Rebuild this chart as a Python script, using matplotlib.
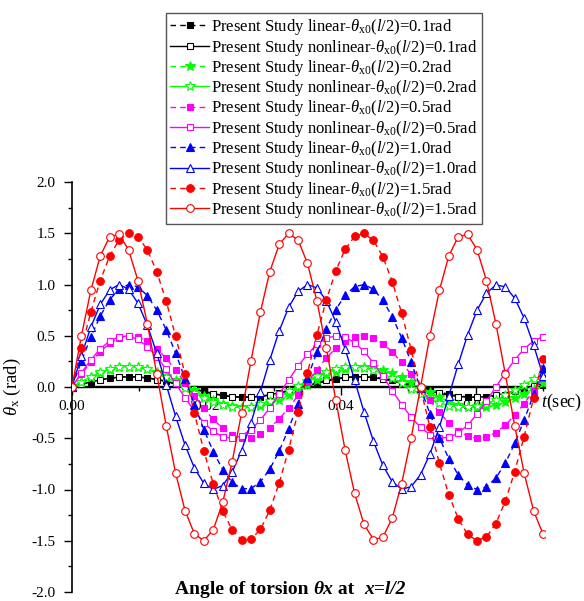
import matplotlib
matplotlib.use("Agg")
import matplotlib.pyplot as plt
from matplotlib.ticker import MultipleLocator, FormatStrFormatter

plt.rcParams["font.family"] = ["Liberation Serif", "DejaVu Serif"]
plt.rcParams["mathtext.fontset"] = "custom"
plt.rcParams["mathtext.rm"] = "Liberation Serif"
plt.rcParams["mathtext.it"] = "Liberation Serif:italic"
plt.rcParams["mathtext.bf"] = "Liberation Serif:bold"
plt.rcParams["axes.unicode_minus"] = False

# time (sec)
t = [0.0000, 0.0014, 0.0028, 0.0042, 0.0056, 0.0070, 0.0084, 0.0098, 0.0112, 0.0126,
     0.0140, 0.0154, 0.0168, 0.0182, 0.0196, 0.0210, 0.0224, 0.0238, 0.0252, 0.0266,
     0.0280, 0.0294, 0.0308, 0.0322, 0.0336, 0.0350, 0.0364, 0.0378, 0.0392, 0.0406,
     0.0420, 0.0434, 0.0448, 0.0462, 0.0476, 0.0490, 0.0504, 0.0518, 0.0532, 0.0546,
     0.0560, 0.0574, 0.0588, 0.0602, 0.0616, 0.0630, 0.0644, 0.0658, 0.0672, 0.0686,
     0.0700]

# angle of torsion (rad)
lin_01 = [0, 0.025, 0.049, 0.069, 0.085, 0.096, 0.100, 0.098, 0.089, 0.075, 0.056, 0.033, 0.008,
          -0.017, -0.042, -0.063, -0.081, -0.093, -0.099, -0.099, -0.093, -0.080, -0.062, -0.041,
          -0.016, 0.009, 0.034, 0.057, 0.076, 0.090, 0.098, 0.100, 0.095, 0.085, 0.069, 0.048,
          0.024, -0.001, -0.026, -0.050, -0.070, -0.086, -0.096, -0.100, -0.098, -0.089, -0.074,
          -0.055, -0.032, -0.007, 0.018]
non_01 = [0, 0.026, 0.049, 0.070, 0.086, 0.096, 0.100, 0.097, 0.088, 0.073, 0.053, 0.029, 0.004,
          -0.022, -0.046, -0.067, -0.084, -0.095, -0.100, -0.098, -0.090, -0.075, -0.056, -0.033,
          -0.007, 0.018, 0.043, 0.065, 0.082, 0.094, 0.100, 0.099, 0.091, 0.077, 0.059, 0.036,
          0.011, -0.015, -0.040, -0.062, -0.080, -0.093, -0.099, -0.099, -0.093, -0.080, -0.062,
          -0.040, -0.015, 0.011, 0.036]
lin_02 = [0, 0.050, 0.098, 0.138, 0.170, 0.191, 0.200, 0.195, 0.178, 0.150, 0.112, 0.066, 0.016,
          -0.034, -0.083, -0.126, -0.161, -0.186, -0.199, -0.198, -0.185, -0.160, -0.125, -0.081,
          -0.033, 0.018, 0.068, 0.113, 0.151, 0.179, 0.196, 0.200, 0.191, 0.169, 0.137, 0.096,
          0.049, -0.002, -0.052, -0.099, -0.140, -0.171, -0.192, -0.200, -0.195, -0.178, -0.149,
          -0.110, -0.064, -0.015, 0.036]
non_02 = [0, 0.052, 0.101, 0.142, 0.174, 0.194, 0.200, 0.192, 0.171, 0.138, 0.096, 0.047, -0.006,
          -0.058, -0.106, -0.146, -0.177, -0.195, -0.200, -0.191, -0.168, -0.134, -0.091, -0.041,
          0.011, 0.063, 0.110, 0.150, 0.179, 0.196, 0.200, 0.189, 0.165, 0.130, 0.086, 0.036,
          -0.017, -0.068, -0.115, -0.154, -0.182, -0.197, -0.199, -0.187, -0.162, -0.126, -0.081,
          -0.030, 0.023, 0.074, 0.120]
lin_05 = [0, 0.126, 0.244, 0.346, 0.426, 0.478, 0.500, 0.489, 0.446, 0.375, 0.279, 0.165, 0.041,
          -0.086, -0.208, -0.316, -0.403, -0.465, -0.496, -0.496, -0.463, -0.400, -0.312, -0.203,
          -0.082, 0.046, 0.170, 0.283, 0.378, 0.448, 0.490, 0.499, 0.477, 0.424, 0.343, 0.240,
          0.122, -0.005, -0.131, -0.248, -0.350, -0.428, -0.480, -0.500, -0.488, -0.444, -0.372,
          -0.275, -0.161, -0.036, 0.091]
non_05 = [0, 0.138, 0.265, 0.372, 0.449, 0.492, 0.497, 0.464, 0.394, 0.294, 0.171, 0.035, -0.104,
          -0.235, -0.347, -0.433, -0.485, -0.500, -0.476, -0.415, -0.321, -0.203, -0.070, 0.070,
          0.203, 0.321, 0.415, 0.476, 0.500, 0.485, 0.433, 0.347, 0.235, 0.104, -0.035, -0.171,
          -0.294, -0.394, -0.464, -0.497, -0.492, -0.449, -0.372, -0.265, -0.138, 0.000, 0.138,
          0.265, 0.372, 0.449, 0.492]
lin_10 = [0, 0.252, 0.488, 0.692, 0.852, 0.957, 0.999, 0.977, 0.892, 0.749, 0.558, 0.331, 0.082,
          -0.172, -0.415, -0.631, -0.806, -0.930, -0.993, -0.991, -0.926, -0.801, -0.624, -0.407,
          -0.163, 0.091, 0.339, 0.566, 0.755, 0.896, 0.979, 0.999, 0.954, 0.847, 0.686, 0.480,
          0.243, -0.009, -0.261, -0.496, -0.699, -0.857, -0.959, -1.000, -0.975, -0.888, -0.743,
          -0.550, -0.322, -0.073, 0.181]
non_10 = [0, 0.307, 0.584, 0.805, 0.948, 1.000, 0.955, 0.818, 0.602, 0.328, 0.022, -0.286, -0.566,
          -0.792, -0.941, -0.999, -0.961, -0.831, -0.620, -0.349, -0.045, 0.264, 0.548, 0.778,
          0.933, 0.999, 0.967, 0.843, 0.637, 0.370, 0.067, -0.243, -0.529, -0.764, -0.925, -0.997,
          -0.973, -0.855, -0.654, -0.390, -0.089, 0.221, 0.510, 0.749, 0.916, 0.995, 0.978,
          0.866, 0.671, 0.411, 0.111]
lin_15 = [0, 0.378, 0.732, 1.039, 1.278, 1.435, 1.499, 1.466, 1.338, 1.124, 0.837, 0.496, 0.123,
          -0.258, -0.623, -0.947, -1.209, -1.394, -1.489, -1.487, -1.389, -1.201, -0.936, -0.610,
          -0.245, 0.137, 0.509, 0.848, 1.133, 1.344, 1.469, 1.498, 1.431, 1.271, 1.029, 0.720,
          0.365, -0.014, -0.392, -0.744, -1.049, -1.285, -1.439, -1.499, -1.463, -1.332, -1.115,
          -0.825, -0.483, -0.109, 0.272]
non_15 = [0, 0.500, 0.942, 1.278, 1.466, 1.488, 1.340, 1.038, 0.618, 0.127, -0.378, -0.840, -1.206,
          -1.434, -1.499, -1.392, -1.126, -0.732, -0.254, 0.254, 0.731, 1.126, 1.392, 1.499, 1.434,
          1.206, 0.840, 0.378, -0.127, -0.618, -1.038, -1.339, -1.488, -1.466, -1.278, -0.942,
          -0.500, 0.000, 0.500, 0.942, 1.278, 1.466, 1.488, 1.340, 1.038, 0.618, 0.127, -0.378,
          -0.840, -1.206, -1.434]

amps = ["0.1", "0.2", "0.5", "1.0", "1.5"]
colors = ["black", "#00ff00", "#ff00ff", "#0000ff", "#ff0000"]
markers = ["s", "*", "s", "^", "o"]
msizes = [4.8, 7, 4.8, 6, 5.5]
lin_data = [lin_01, lin_02, lin_05, lin_10, lin_15]
non_data = [non_01, non_02, non_05, non_10, non_15]
mevery = [2, 1, 1, 1, 1]

fig = plt.figure(figsize=(5.84, 6.01), dpi=100)
ax = fig.add_axes([72 / 584, 1 - 592 / 601, 473 / 584, 410 / 601])

for k in range(5):
    ax.plot(t, lin_data[k], linestyle=(0, (4, 3)), linewidth=1.0, color=colors[k],
            marker=markers[k], markersize=msizes[k], markerfacecolor=colors[k],
            markeredgecolor=colors[k], markeredgewidth=0.8, markevery=mevery[k],
            label=r"Present Study linear-$\theta_{\rm x0}$($l$/2)=" + amps[k] + "rad")
    ax.plot(t, non_data[k], linestyle="-", linewidth=1.0, color=colors[k],
            marker=markers[k], markersize=msizes[k], markerfacecolor="white",
            markeredgecolor=colors[k], markeredgewidth=0.8,
            markevery=(1, 2) if mevery[k] == 2 else 1,
            label=r"Present Study nonlinear-$\theta_{\rm x0}$($l$/2)=" + amps[k] + "rad")

ax.set_xlim(0, 0.0703)
ax.set_ylim(-2.0, 2.0)
ax.spines["top"].set_visible(False)
ax.spines["right"].set_visible(False)
ax.spines["bottom"].set_position(("data", 0))
ax.spines["bottom"].set_linewidth(1.7)
ax.spines["left"].set_linewidth(1.2)
ax.spines["bottom"].set_zorder(1)
ax.spines["left"].set_zorder(1)
ax.set_axisbelow(True)

ax.xaxis.set_major_locator(MultipleLocator(0.02))
ax.xaxis.set_minor_locator(MultipleLocator(0.01))
ax.xaxis.set_major_formatter(FormatStrFormatter("%.2f"))
ax.yaxis.set_major_locator(MultipleLocator(0.5))
ax.yaxis.set_minor_locator(MultipleLocator(0.25))
ax.yaxis.set_major_formatter(FormatStrFormatter("%.1f"))
ax.tick_params(which="major", direction="out", length=6, width=1.0, labelsize=11, pad=6)
ax.tick_params(axis="x", which="major", pad=3)
ax.tick_params(which="minor", direction="out", length=3, width=1.0)

ax.set_ylabel(r"$\theta_{\rm x}$ (rad)", fontsize=13.5, labelpad=6)
fig.text(541 / 584, 1 - 402 / 601, r"$t$(sec)", fontsize=13, va="center", ha="left")

# title at the bottom: bold, with italic parts
t1 = fig.text(175 / 584, 1 - 589 / 601, "Angle of torsion ", fontsize=14,
              fontweight="bold", va="center", ha="left")
t2 = ax.annotate("\u03b8x", xy=(1, 0), xycoords=t1, va="bottom", ha="left",
                 fontsize=14, fontweight="bold", fontstyle="italic")
t3 = ax.annotate(" at  ", xy=(1, 0), xycoords=t2, va="bottom", ha="left",
                 fontsize=14, fontweight="bold")
t4 = ax.annotate("x=l/2", xy=(1, 0), xycoords=t3, va="bottom", ha="left",
                 fontsize=14, fontweight="bold", fontstyle="italic")

leg = ax.legend(loc="upper left", bbox_to_anchor=(166 / 584, 1 - 13 / 601),
                bbox_transform=fig.transFigure, borderaxespad=0, fontsize=12,
                handlelength=2.35, handletextpad=0.1, labelspacing=0.02,
                borderpad=0.25, fancybox=False, framealpha=1, edgecolor="#555555")
leg.get_frame().set_linewidth(1.0)

fig.savefig("out.png", dpi=100)
